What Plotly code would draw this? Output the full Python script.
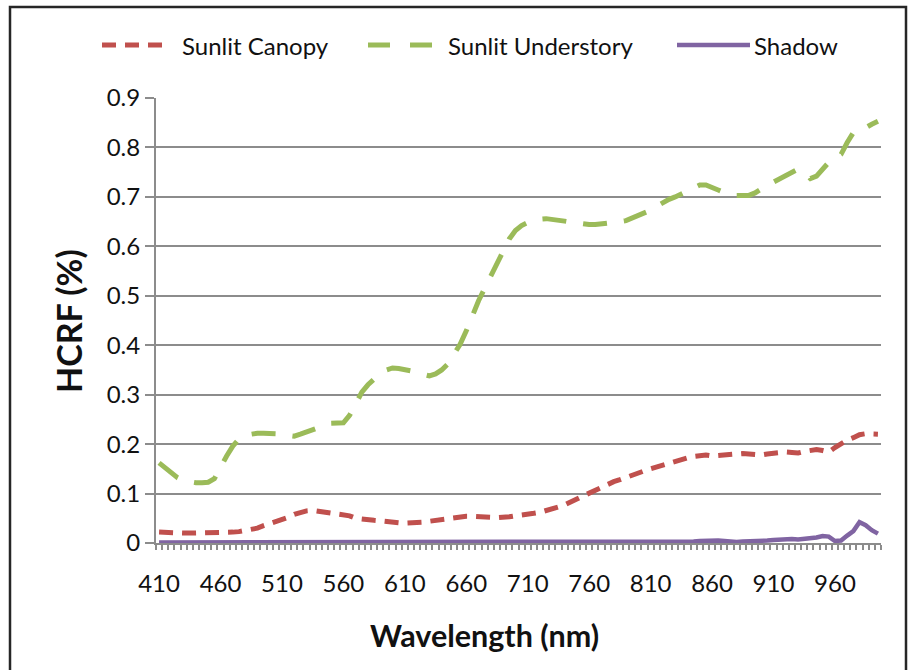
import plotly.graph_objects as go

# ---- data ----
wavelength = list(range(410, 1000, 5))  # category positions (nm)
x_tick_labels = [410, 460, 510, 560, 610, 660, 710, 760, 810, 860, 910, 960]
series_names = ["Sunlit Canopy", "Sunlit Understory", "Shadow"]

sunlit_canopy = [
    0.022, 0.021, 0.020, 0.020, 0.020, 0.020, 0.020, 0.020, 0.021, 0.021,
    0.021, 0.022, 0.022, 0.023, 0.025, 0.027, 0.030, 0.035, 0.039, 0.042,
    0.046, 0.052, 0.058, 0.062, 0.065, 0.066, 0.064, 0.062, 0.059, 0.057,
    0.057, 0.055, 0.050, 0.048, 0.047, 0.046, 0.045, 0.043, 0.042, 0.041,
    0.040, 0.040, 0.041, 0.042, 0.044, 0.046, 0.048, 0.050, 0.052, 0.053,
    0.054, 0.054, 0.054, 0.053, 0.052, 0.051, 0.051, 0.053, 0.055, 0.056,
    0.058, 0.060, 0.062, 0.065, 0.068, 0.073, 0.077, 0.082, 0.089, 0.095,
    0.101, 0.105, 0.111, 0.118, 0.124, 0.128, 0.133, 0.138, 0.142, 0.146,
    0.150, 0.154, 0.157, 0.160, 0.166, 0.170, 0.172, 0.175, 0.177, 0.178,
    0.176, 0.177, 0.178, 0.179, 0.181, 0.181, 0.180, 0.179, 0.178, 0.180,
    0.182, 0.183, 0.184, 0.183, 0.182, 0.185, 0.187, 0.189, 0.187, 0.184,
    0.193, 0.202, 0.208, 0.213, 0.219, 0.221, 0.220, 0.220,
]

sunlit_understory = [
    0.162, 0.152, 0.141, 0.132, 0.126, 0.123, 0.122, 0.122, 0.123, 0.130,
    0.155, 0.176, 0.196, 0.210, 0.218, 0.221, 0.222, 0.222, 0.222, 0.221,
    0.219, 0.217, 0.216, 0.220, 0.225, 0.229, 0.234, 0.238, 0.242, 0.243,
    0.243, 0.258, 0.283, 0.305, 0.320, 0.333, 0.343, 0.350, 0.354, 0.353,
    0.351, 0.348, 0.344, 0.340, 0.338, 0.342, 0.350, 0.362, 0.380, 0.402,
    0.429, 0.462, 0.490, 0.515, 0.541, 0.567, 0.592, 0.615, 0.632, 0.642,
    0.648, 0.652, 0.655, 0.656, 0.655, 0.653, 0.651, 0.649, 0.647, 0.645,
    0.644, 0.644, 0.645, 0.646, 0.647, 0.650, 0.652, 0.657, 0.662, 0.668,
    0.673, 0.681, 0.689, 0.695, 0.700, 0.706, 0.712, 0.718, 0.724, 0.724,
    0.720, 0.714, 0.709, 0.705, 0.703, 0.703, 0.703, 0.708, 0.717, 0.724,
    0.730, 0.737, 0.743, 0.750, 0.756, 0.748, 0.737, 0.742, 0.758, 0.770,
    0.778, 0.786, 0.810, 0.830, 0.836, 0.840, 0.847, 0.853,
]

shadow = [
    0.001, 0.001, 0.001, 0.001, 0.001, 0.001, 0.001, 0.001, 0.001, 0.001,
    0.001, 0.001, 0.001, 0.001, 0.001, 0.001, 0.001, 0.001, 0.001, 0.001,
    0.001, 0.001, 0.001, 0.001, 0.001, 0.001, 0.001, 0.001, 0.001, 0.001,
    0.001, 0.001, 0.001, 0.001, 0.001, 0.001, 0.001, 0.001, 0.001, 0.001,
    0.001, 0.001, 0.001, 0.001, 0.001, 0.001, 0.001, 0.001, 0.001, 0.001,
    0.001, 0.001, 0.001, 0.001, 0.001, 0.001, 0.001, 0.001, 0.001, 0.001,
    0.001, 0.001, 0.001, 0.001, 0.001, 0.001, 0.001, 0.001, 0.001, 0.001,
    0.001, 0.002, 0.002, 0.002, 0.002, 0.002, 0.002, 0.002, 0.002, 0.002,
    0.002, 0.002, 0.002, 0.002, 0.002, 0.002, 0.002, 0.003, 0.004, 0.005,
    0.005, 0.005, 0.004, 0.002, 0.002, 0.003, 0.003, 0.004, 0.004, 0.005,
    0.006, 0.007, 0.008, 0.008, 0.007, 0.008, 0.009, 0.011, 0.014, 0.013,
    0.004, 0.005, 0.015, 0.024, 0.042, 0.036, 0.026, 0.019,
]

# ---- styling ----
RED = "#C0504D"
GREEN = "#9BBB59"
PURPLE = "#8064A2"
GRID = "#8C8C8C"
TEXT = "#111111"
FONT = "Lato, 'Liberation Sans', sans-serif"

styles = [
    dict(color=RED, width=5, dash="14px,9px"),
    dict(color=GREEN, width=5, dash="24px,17px"),
    dict(color=PURPLE, width=4.5, dash="solid"),
]

fig = go.Figure()
for name, vals, st in zip(series_names, [sunlit_canopy, sunlit_understory, shadow], styles):
    fig.add_trace(go.Scatter(x=wavelength, y=vals, name=name, mode="lines", line=st,
                             showlegend=False))

W, H = 912, 670
ML, MR, MT, MB = 156, 31, 98, 127
PW, PH = W - ML - MR, H - MT - MB


def pxx(px):
    return (px - ML) / PW


def pxy(py):
    return 1 - (py - MT) / PH


# legend drawn as sample lines + labels placed in paper space
LEG_Y = 45
legend_samples = [(102, 166, "14px,9px"), (368, 434, "22px,20px"), (677, 750, "solid")]
legend_text_x = [180, 446, 752]
shapes = []
annotations = []
for (x0, x1, dash), st, tx, name in zip(legend_samples, styles, legend_text_x, series_names):
    shapes.append(dict(type="line", xref="paper", yref="paper",
                       x0=pxx(x0), x1=pxx(x1), y0=pxy(LEG_Y), y1=pxy(LEG_Y),
                       line=dict(color=st["color"], width=st["width"], dash=dash)))
    annotations.append(dict(xref="paper", yref="paper", x=pxx(tx), y=pxy(LEG_Y),
                            xanchor="left", yanchor="middle", showarrow=False, text=name,
                            font=dict(family=FONT, size=24, color=TEXT)))

# axis titles
annotations.append(dict(xref="paper", yref="paper", x=pxx(484), y=pxy(635),
                        xanchor="center", yanchor="middle", showarrow=False,
                        text="<b>Wavelength (nm)</b>",
                        font=dict(family=FONT, size=30.5, color=TEXT)))
annotations.append(dict(xref="paper", yref="paper", x=pxx(68), y=pxy(321),
                        xanchor="center", yanchor="middle", showarrow=False, textangle=-90,
                        text="<b>HCRF (%)</b>",
                        font=dict(family=FONT, size=34, color=TEXT)))

# chart-area border
shapes.append(dict(type="rect", xref="paper", yref="paper",
                   x0=pxx(10), x1=pxx(906), y0=pxy(690), y1=pxy(7),
                   line=dict(color="#262626", width=2.5), fillcolor="rgba(0,0,0,0)",
                   layer="above"))

fig.update_layout(
    width=W, height=H,
    margin=dict(l=ML, r=MR, t=MT, b=MB, pad=0),
    paper_bgcolor="white", plot_bgcolor="white",
    font=dict(family=FONT, size=24, color=TEXT),
    showlegend=False,
    xaxis=dict(
        range=[407.5, 997.5],
        tickmode="array", tickvals=x_tick_labels, ticktext=[str(v) for v in x_tick_labels],
        ticks="outside", ticklen=5, tickcolor="rgba(0,0,0,0)",
        ticklabelstandoff=13,
        tickfont=dict(family=FONT, size=24, color=TEXT),
        showline=True, linecolor=GRID, linewidth=2,
        showgrid=False, zeroline=False,
        minor=dict(ticks="outside", ticklen=5, tickcolor=GRID, tickwidth=1.5,
                   tickmode="linear", tick0=407.5, dtick=5, showgrid=False),
    ),
    yaxis=dict(
        range=[0, 0.9], dtick=0.1, tick0=0,
        ticks="outside", ticklen=9, tickcolor=GRID, tickwidth=2,
        tickfont=dict(family=FONT, size=24, color=TEXT),
        showline=True, linecolor=GRID, linewidth=2,
        showgrid=True, gridcolor=GRID, gridwidth=2,
        zeroline=False,
    ),
    shapes=shapes,
    annotations=annotations,
)

fig.write_html("out.html")
